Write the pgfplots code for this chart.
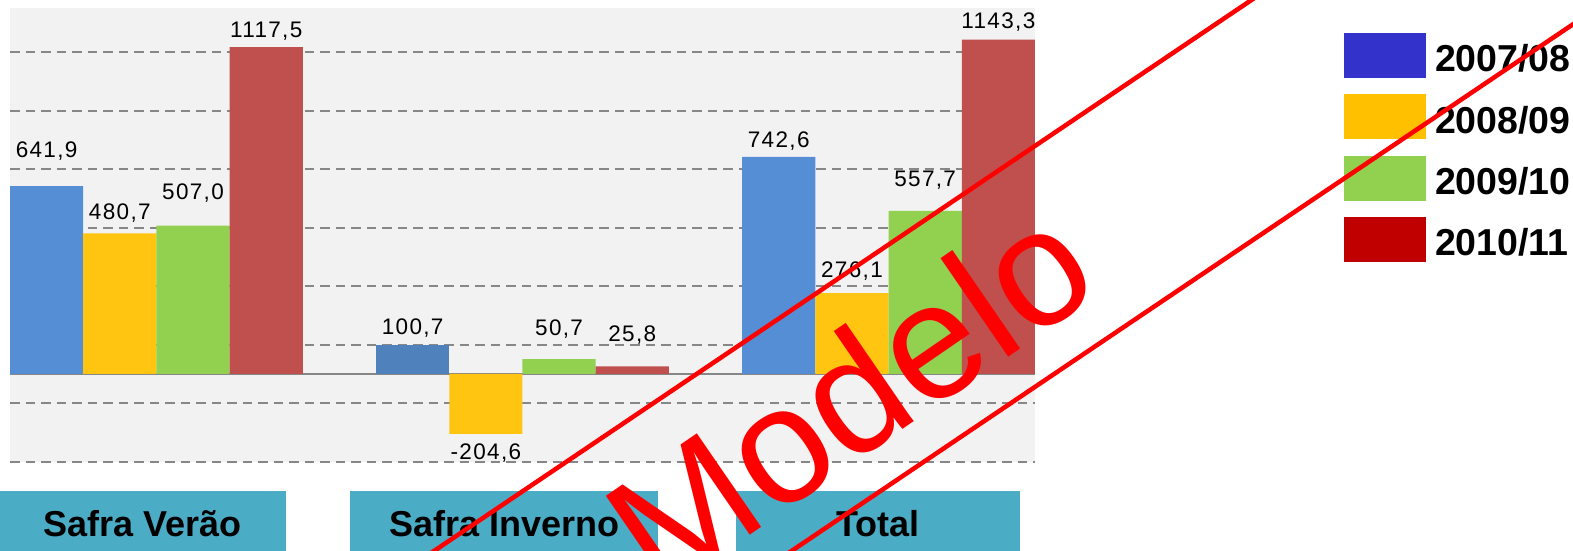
\documentclass[border=0pt]{standalone}
\usepackage{fontspec}
\setmainfont{Liberation Sans}
\usepackage{pgfplots}
\usepackage{pgfplotstable}
\pgfplotsset{compat=1.18}

\definecolor{bgray}{HTML}{F2F2F2}
\definecolor{gridc}{HTML}{878787}
\definecolor{cblue}{HTML}{558ED5}
\definecolor{cblueb}{HTML}{4F81BD}
\definecolor{cyel}{HTML}{FFC510}
\definecolor{cgreen}{HTML}{92D050}
\definecolor{cred}{HTML}{C0504D}
\definecolor{lblue}{HTML}{3333CC}
\definecolor{lyel}{HTML}{FFC000}
\definecolor{lgreen}{HTML}{92D050}
\definecolor{lred}{HTML}{C00000}
\definecolor{catc}{HTML}{4BACC6}

\newcommand\catbox[2]{\hbox to #1pt{\vrule width 0pt height 45.7pt depth 25pt\hss #2\hss}}

% x = group index (0,1,2) + position of the bar within the group
\pgfplotstableread{
x y off
-0.3 641.9 37
1.7 742.6 17
}\dataA
\pgfplotstableread{
x y off
0.7 100.7 17.8
}\dataAb
\pgfplotstableread{
x y off
-0.1 480.7 22
0.9 -204.6 -18.2
1.9 276.1 24
}\dataB
\pgfplotstableread{
x y off
0.1 507.0 33.8
1.1 50.7 32
2.1 557.7 32.4
}\dataC
\pgfplotstableread{
x y off
0.3 1117.5 18
1.3 25.8 32.5
2.3 1143.3 18.7
}\dataD

\begin{document}
\begin{tikzpicture}
\path[use as bounding box, clip] (0pt,0pt) rectangle (1573pt,551pt);
\begin{axis}[
  at={(10pt,89.3pt)}, anchor=south west,
  scale only axis, width=1025pt, height=453.3pt,
  xmin=-0.4, xmax=2.4, ymin=-300, ymax=1250,
  axis background/.style={fill=bgray},
  axis line style={draw=none},
  tick style={draw=none},
  major tick length=0pt,
  ytick={-300,-100,100,300,500,700,900,1100},
  yticklabels={},
  ymajorgrids,
  grid style={draw=gridc, line width=2pt, dash pattern=on 9.5pt off 6pt},
  major grid style={draw=gridc, line width=2pt, dash pattern=on 9.5pt off 6pt},
  extra y ticks={0},
  extra y tick labels={},
  extra y tick style={ymajorgrids=true, grid style={solid, draw=gridc, line width=2.4pt}, major grid style={solid, draw=gridc, line width=2.4pt}},
  xtick={-0.0369,0.9497,1.9718},
  xticklabels={\catbox{286}{Safra Verão},\catbox{308}{Safra Inverno},\catbox{284}{Total}},
  xticklabel style={anchor=north, inner sep=0pt, fill=catc, font=\fontsize{36}{36}\selectfont\bfseries, yshift=-29.3pt},
  clip=false,
  lab/.style={
    nodes near coords={\pgfmathprintnumber[fixed,fixed zerofill,precision=1,use comma,1000 sep={},assume math mode=true]{\pgfplotspointmeta}},
    visualization depends on={\thisrow{off} \as \laboff},
    every node near coord/.append style={anchor=base, inner sep=0pt, yshift=\laboff pt-7.9pt,
      font=\fontsize{22.5}{22.5}\selectfont\addfontfeature{LetterSpace=6}, text=black},
  },
  bars/.style={ybar, bar width=0.2, bar shift=0, draw=none, forget plot, lab},
  legend image code/.code={\fill[#1] (0pt,-8pt) rectangle (82pt,37pt);},
  legend style={at={(1.3015,0.9457)}, anchor=north west, draw=none, fill=none,
    inner sep=0pt, outer sep=0pt, row sep=-1pt, column sep=9pt,
    font=\fontsize{37.5}{37.5}\selectfont\bfseries, nodes={inner sep=0pt}},
  legend cell align=left,
]
\addplot[bars, fill=cblue] table[x=x,y=y] {\dataA};
\addplot[bars, fill=cblueb] table[x=x,y=y] {\dataAb};
\addplot[bars, fill=cyel] table[x=x,y=y] {\dataB};
\addplot[bars, fill=cgreen] table[x=x,y=y] {\dataC};
\addplot[bars, fill=cred] table[x=x,y=y] {\dataD};
\addlegendimage{fill=lblue, draw=none}
\addlegendentry{\raisebox{22pt}{2007/08}}
\addlegendimage{fill=lyel, draw=none}
\addlegendentry{\raisebox{22pt}{2008/09}}
\addlegendimage{fill=lgreen, draw=none}
\addlegendentry{\raisebox{22pt}{2009/10}}
\addlegendimage{fill=lred, draw=none}
\addlegendentry{\raisebox{22pt}{2010/11}}
\end{axis}
% watermark
\draw[red, line width=4.5pt] (380pt,-36.4pt) -- (1300pt,583.7pt);
\draw[red, line width=4.5pt] (740pt,-34.7pt) -- (1620pt,558.4pt);
\node[red, anchor=base, rotate=34.5, inner sep=0pt, font=\fontsize{165}{165}\selectfont] at (882pt,107pt) {Modelo};
\end{tikzpicture}
\end{document}
